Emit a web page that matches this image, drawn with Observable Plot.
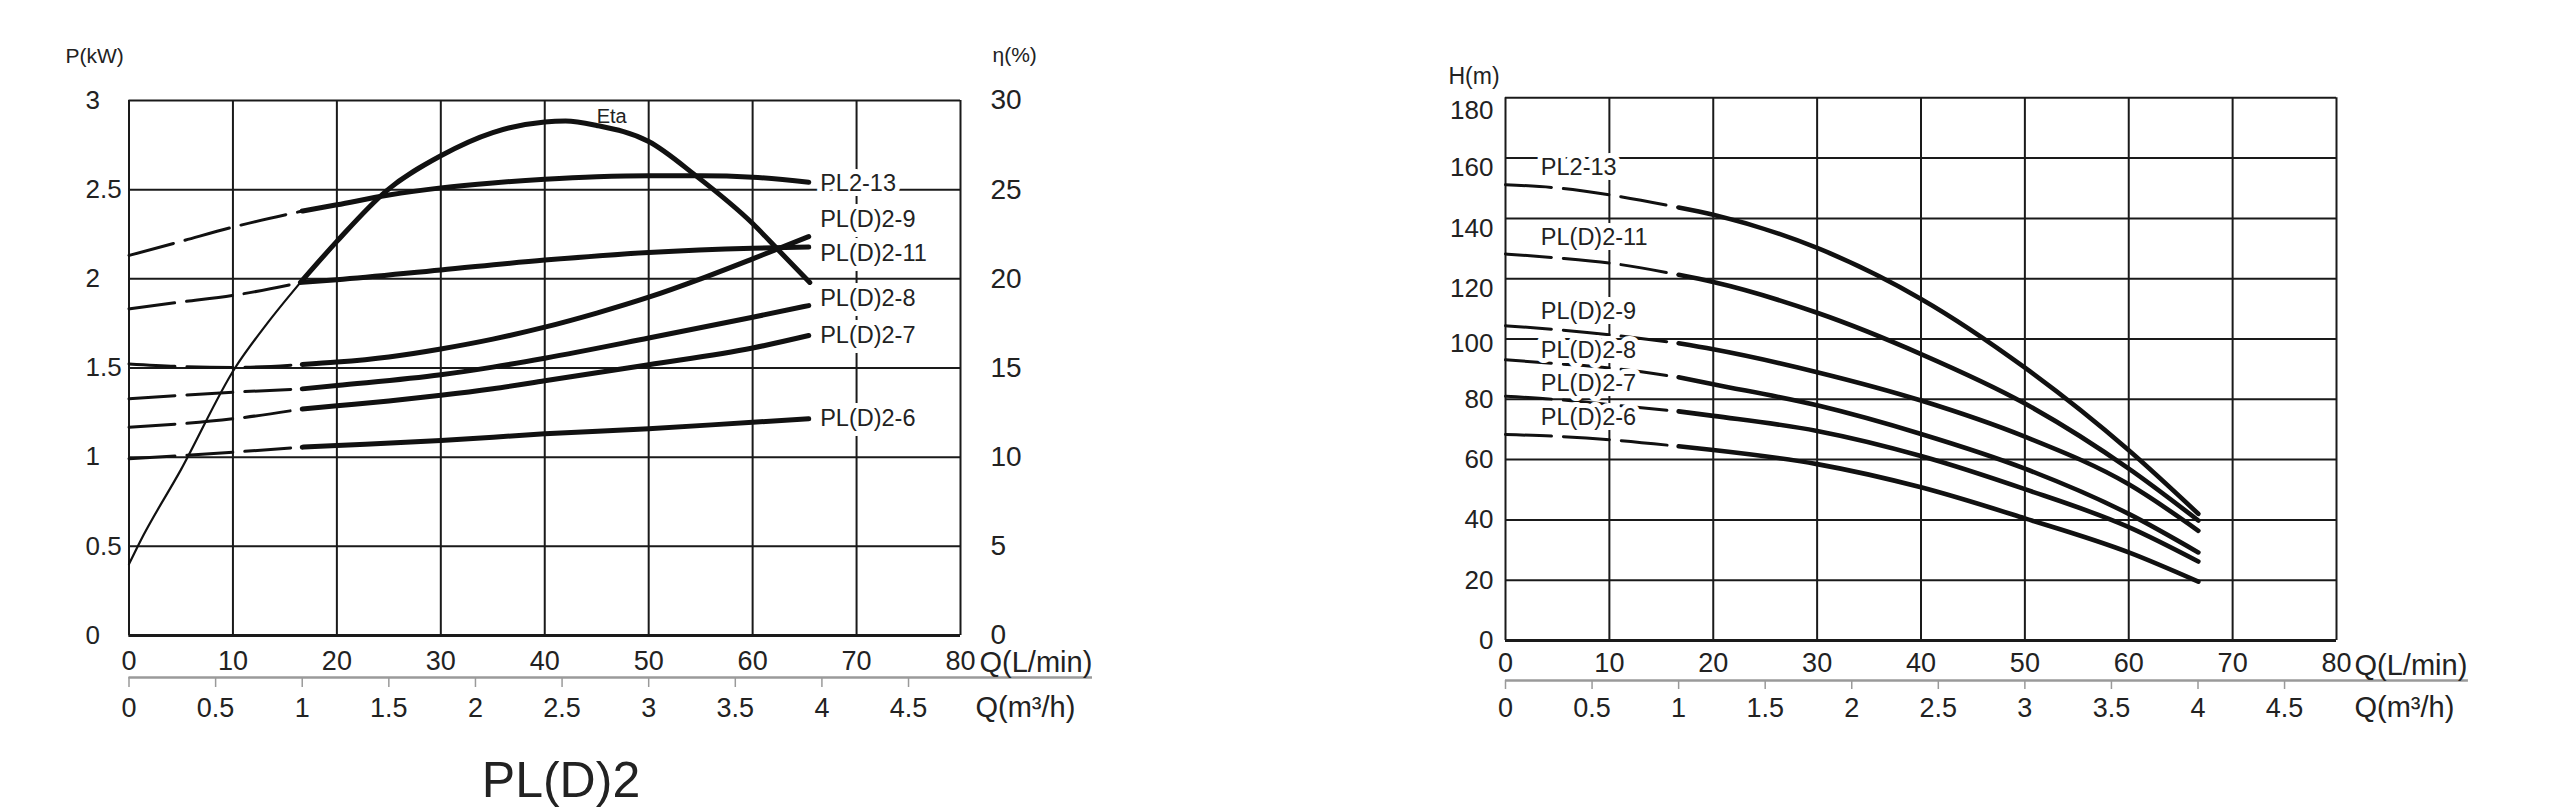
<!DOCTYPE html>
<html><head><meta charset="utf-8">
<script src="https://cdn.jsdelivr.net/npm/d3@7"></script>
<script src="https://cdn.jsdelivr.net/npm/@observablehq/plot@0.6"></script>
<style>
html,body{margin:0;padding:0;background:#fff;}
body{width:2560px;height:811px;overflow:hidden;position:relative;font-family:"Liberation Sans",Arial,sans-serif;}
#left{position:absolute;left:0;top:0;width:1110px;}
#right{position:absolute;left:1380px;top:0;width:1200px;}
#left svg,#right svg{max-width:none;overflow:visible;}
#title{position:absolute;left:561px;top:755px;transform:translateX(-50%);font-size:50px;line-height:1;color:#222;white-space:nowrap;}
</style></head><body>
<div id="left"></div><div id="right"></div><div id="title">PL(D)2</div>
<script>
// ---------- tick values ----------
const qTicks = [0, 10, 20, 30, 40, 50, 60, 70, 80];          // Q (L/min)
const m3Ticks = [0, 0.5, 1, 1.5, 2, 2.5, 3, 3.5, 4, 4.5];    // Q (m³/h)
const pTicks = [0, 0.5, 1, 1.5, 2, 2.5, 3];                  // P (kW)  (η = 10·P on right axis)
const hTicks = [0, 20, 40, 60, 80, 100, 120, 140, 160, 180]; // H (m)

const models = ["PL2-13", "PL(D)2-11", "PL(D)2-9", "PL(D)2-8", "PL(D)2-7", "PL(D)2-6"];

// ---------- power curves P(kW) vs Q(L/min) ----------
const powerPL2_13  = [[0,2.131],[5,2.21],[10,2.29],[16.67,2.38],[20,2.415],[25,2.47],[30,2.51],[35,2.538],[40,2.558],[45,2.572],[50,2.578],[55,2.578],[60,2.57],[65.4,2.542]];
const powerPLD2_11 = [[0,1.832],[5,1.87],[10,1.907],[16.67,1.981],[20,1.995],[30,2.05],[40,2.105],[50,2.148],[60,2.172],[65.4,2.178]];
const powerPLD2_9  = [[0,1.523],[5,1.508],[10,1.503],[16.67,1.52],[20,1.533],[25,1.562],[30,1.607],[35,1.662],[40,1.729],[45,1.808],[50,1.897],[55,2.0],[60,2.112],[65.4,2.237]];
const powerPLD2_8  = [[0,1.327],[10,1.364],[16.67,1.383],[20,1.402],[30,1.462],[35,1.505],[40,1.555],[50,1.668],[60,1.785],[65.4,1.85]];
const powerPLD2_7  = [[0,1.168],[10,1.215],[16.67,1.27],[20,1.288],[25,1.315],[30,1.347],[35,1.384],[40,1.428],[50,1.518],[60,1.612],[65.4,1.682]];
const powerPLD2_6  = [[0,0.991],[10,1.028],[16.67,1.056],[20,1.065],[30,1.093],[40,1.131],[50,1.159],[60,1.196],[65.4,1.215]];

// ---------- efficiency η(%) vs Q(L/min) ----------
const etaThin  = [[0,4.0],[1.1,5.3],[5,9.3],[10.2,15.0],[13.3,17.5],[16.5,19.8]];
const etaThick = [[16.5,19.8],[20,22.1],[24.8,24.95],[30,26.9],[35,28.2],[40,28.8],[42,28.85],[45,28.6],[50,27.7],[54.5,25.8],[60,23.1],[62.5,21.6],[65.5,19.8]];
const etaLabelAt = [45, 29.1];

// ---------- head curves H(m) vs Q(L/min) ----------
const headPL2_13  = [[0,151.2],[5,150.1],[10,147.8],[16.67,143.6],[20,141.2],[30,130.2],[40,113.3],[50,90.5],[60,63.1],[66.7,42]];
const headPLD2_11 = [[0,128.2],[5,126.9],[10,125.2],[16.67,121.3],[20,118.9],[30,108.7],[40,95],[50,78.6],[60,57],[66.7,39.8]];
const headPLD2_9  = [[0,104.4],[5,103.1],[10,101.4],[16.67,98.6],[20,96.6],[30,89],[40,79.6],[50,67.6],[60,51.8],[66.7,36.4]];
const headPLD2_8  = [[0,93.1],[5,91.8],[10,90.4],[16.67,87.3],[20,85],[30,78],[40,68.5],[50,57],[60,42],[66.7,29.2]];
const headPLD2_7  = [[0,81],[5,79.9],[10,78.2],[16.67,76],[20,74.5],[30,69.5],[40,61.2],[50,50.2],[60,37.6],[66.7,26.2]];
const headPLD2_6  = [[0,68.3],[5,67.7],[10,66.6],[16.67,64.4],[20,63.2],[30,58.5],[40,50.8],[50,40.5],[60,29.2],[66.7,19.5]];

// ---------- curve labels (data units) ----------
const powerLabelNames = ["PL2-13", "PL(D)2-9", "PL(D)2-11", "PL(D)2-8", "PL(D)2-7", "PL(D)2-6"];
const powerLabelP     = [2.535, 2.331, 2.144, 1.892, 1.685, 1.217];
const powerLabelQ     = 66.5;
const headLabelH      = [157, 133.8, 109.2, 96.2, 85.2, 74.1];
const headLabelQ      = 3.4;

// ---------- build tables ----------
const SPLIT = 1000 / 60; // 1 m³/h expressed in L/min: dashed below, solid above
const toLmin = m => m * 1000 / 60;
const fmtM3 = d => String(Math.round(d * 0.06 * 10) / 10);
const AXIS_END = 92.7; // secondary axis line runs under the "Q(L/min)" label

function rows(name, pts) { return pts.map(([q, v]) => ({name, q, v})); }
const powerSeries = [powerPL2_13, powerPLD2_11, powerPLD2_9, powerPLD2_8, powerPLD2_7, powerPLD2_6];
const headSeries  = [headPL2_13, headPLD2_11, headPLD2_9, headPLD2_8, headPLD2_7, headPLD2_6];
const powerRows = models.flatMap((m, i) => rows(m, powerSeries[i]));
const headRows  = models.flatMap((m, i) => rows(m, headSeries[i]));
const dashedPart = r => r.filter(d => d.q <= SPLIT + 0.01);
const solidPart  = r => r.filter(d => d.q >= SPLIT - 0.01);
const etaThinRows  = rows("Eta", etaThin);
const etaThickRows = rows("Eta", etaThick);
const powerLabels = powerLabelNames.map((n, i) => ({n, q: powerLabelQ, v: powerLabelP[i]}));
const headLabels  = models.map((n, i) => ({n, q: headLabelQ, v: headLabelH[i]}));

const FONT = '"Liberation Sans", Arial, sans-serif';
const GRID = "#1a1a1a";
const INK = "#111";
const TXT = "#222";
const AX2 = "#9a9a9a";
const DASH = "46,12";
const CURVE = "monotone-x";
const num = d => String(d);

// ---------- left chart: P / η ----------
const left = Plot.plot({
  width: 1110, height: 730,
  marginLeft: 128.5, marginRight: 150, marginTop: 100, marginBottom: 95,
  x: {domain: [0, 80]},
  y: {domain: [0, 3]},
  style: {fontFamily: FONT, color: TXT, background: "transparent"},
  marks: [
    Plot.ruleX(qTicks, {stroke: GRID, strokeWidth: 2}),
    Plot.ruleY(pTicks, {stroke: GRID, strokeWidth: 2}),
    Plot.ruleY([0], {stroke: GRID, strokeWidth: 3}),
    Plot.axisY(pTicks, {anchor: "left", tickSize: 0, tickPadding: 43.5, textAnchor: "start", fontSize: 26, fill: TXT, label: null, tickFormat: num}),
    Plot.axisY(pTicks, {anchor: "right", tickSize: 0, tickPadding: 30, fontSize: 28, fill: TXT, label: null, tickFormat: d => String(d * 10)}),
    Plot.axisX(qTicks, {anchor: "bottom", tickSize: 0, tickPadding: 15, fontSize: 27, fill: TXT, label: null, tickFormat: num}),
    Plot.ruleY([0], {x1: 0, x2: AXIS_END, dy: 42, stroke: AX2, strokeWidth: 2.5}),
    Plot.axisX(m3Ticks.map(toLmin), {anchor: "bottom", tickSize: 10, tickPadding: 10, dy: 42, stroke: AX2, strokeWidth: 1.5, fill: TXT, fontSize: 27, label: null, tickFormat: fmtM3}),
    Plot.text(["Q(L/min)"], {frameAnchor: "bottom-right", dx: 19, dy: 27, textAnchor: "start", lineAnchor: "middle", fontSize: 29, fill: TXT}),
    Plot.text(["Q(m³/h)"], {frameAnchor: "bottom-right", dx: 15, dy: 72, textAnchor: "start", lineAnchor: "middle", fontSize: 29, fill: TXT}),
    Plot.text(["P(kW)"], {frameAnchor: "top-left", dx: -63.5, dy: -44, textAnchor: "start", lineAnchor: "middle", fontSize: 21, fill: TXT}),
    Plot.text(["η(%)"], {frameAnchor: "top-right", dx: 32, dy: -45, textAnchor: "start", lineAnchor: "middle", fontSize: 21, fill: TXT}),
    // power curves
    Plot.line(dashedPart(powerRows), {x: "q", y: "v", z: "name", curve: CURVE, stroke: INK, strokeWidth: 3, strokeDasharray: DASH}),
    Plot.line(solidPart(powerRows), {x: "q", y: "v", z: "name", curve: CURVE, stroke: INK, strokeWidth: 5}),
    // efficiency curve (η% on the P scale: 10 % ↔ 1 kW)
    Plot.line(etaThinRows, {x: "q", y: d => d.v / 10, curve: CURVE, stroke: INK, strokeWidth: 2.2}),
    Plot.line(etaThickRows, {x: "q", y: d => d.v / 10, curve: CURVE, stroke: INK, strokeWidth: 5}),
    Plot.text(["Eta"], {x: () => etaLabelAt[0], y: () => etaLabelAt[1] / 10, textAnchor: "start", lineAnchor: "middle", fontSize: 20, fill: TXT}),
    Plot.text(powerLabels, {x: "q", y: "v", text: "n", textAnchor: "start", lineAnchor: "middle", fontSize: 23.5, fill: TXT, stroke: "white", strokeWidth: 10, strokeLinejoin: "round"})
  ]
});
document.getElementById("left").appendChild(left);

// ---------- right chart: H ----------
const hTickText = {anchor: "left", tickSize: 0, tickPadding: 12, fontSize: 26, fill: TXT, label: null, tickFormat: num};
const right = Plot.plot({
  width: 1200, height: 730,
  marginLeft: 125, marginRight: 244, marginTop: 97.3, marginBottom: 90,
  x: {domain: [0, 80]},
  y: {domain: [0, 180]},
  style: {fontFamily: FONT, color: TXT, background: "transparent"},
  marks: [
    Plot.ruleX(qTicks, {stroke: GRID, strokeWidth: 2}),
    Plot.ruleY(hTicks, {stroke: GRID, strokeWidth: 2}),
    Plot.ruleY([0], {stroke: GRID, strokeWidth: 3}),
    // the printed H labels sit progressively lower than their grid lines toward the top
    Plot.axisY(hTicks.filter(h => h <= 80), hTickText),
    Plot.axisY(hTicks.filter(h => h === 100), {...hTickText, dy: 5}),
    Plot.axisY(hTicks.filter(h => h >= 120 && h <= 160), {...hTickText, dy: 10}),
    Plot.axisY(hTicks.filter(h => h === 180), {...hTickText, dy: 13}),
    Plot.axisX(qTicks, {anchor: "bottom", tickSize: 0, tickPadding: 12, fontSize: 27, fill: TXT, label: null, tickFormat: num}),
    Plot.ruleY([0], {x1: 0, x2: AXIS_END, dy: 40, stroke: AX2, strokeWidth: 2.5}),
    Plot.axisX(m3Ticks.map(toLmin), {anchor: "bottom", tickSize: 9, tickPadding: 8, dy: 40, stroke: AX2, strokeWidth: 1.5, fill: TXT, fontSize: 27, label: null, tickFormat: fmtM3}),
    Plot.text(["Q(L/min)"], {frameAnchor: "bottom-right", dx: 18, dy: 25, textAnchor: "start", lineAnchor: "middle", fontSize: 29, fill: TXT}),
    Plot.text(["Q(m³/h)"], {frameAnchor: "bottom-right", dx: 18, dy: 67, textAnchor: "start", lineAnchor: "middle", fontSize: 29, fill: TXT}),
    Plot.text(["H(m)"], {frameAnchor: "top-left", dx: -57, dy: -21, textAnchor: "start", lineAnchor: "middle", fontSize: 23, fill: TXT}),
    Plot.line(dashedPart(headRows), {x: "q", y: "v", z: "name", curve: CURVE, stroke: INK, strokeWidth: 3, strokeDasharray: DASH}),
    Plot.line(solidPart(headRows), {x: "q", y: "v", z: "name", curve: CURVE, stroke: INK, strokeWidth: 4.6}),
    Plot.text(headLabels, {x: "q", y: "v", text: "n", textAnchor: "start", lineAnchor: "middle", fontSize: 23.5, fill: TXT, stroke: "white", strokeWidth: 10, strokeLinejoin: "round"})
  ]
});
document.getElementById("right").appendChild(right);
</script>
</body></html>
